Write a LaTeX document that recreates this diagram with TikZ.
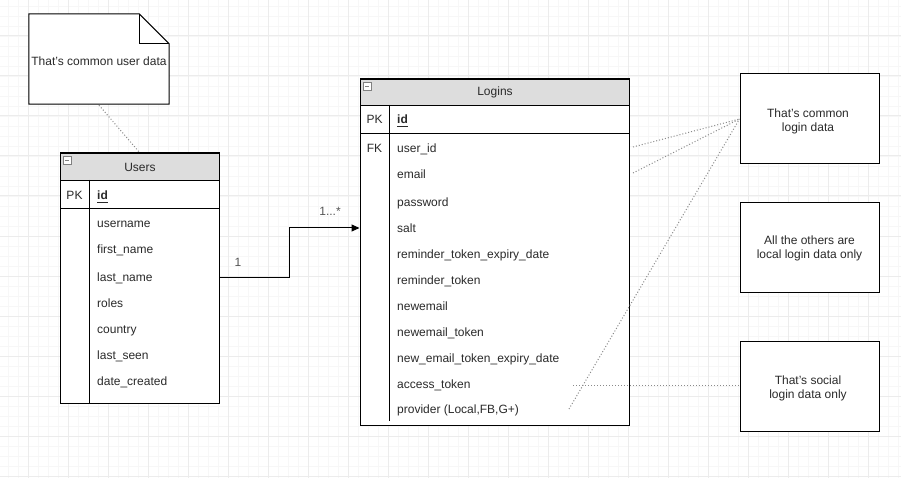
\documentclass[tikz,border=0pt]{standalone}
\usepackage{fontspec}
\setmainfont{Liberation Sans}
\usetikzlibrary{arrows.meta}
\definecolor{hdr}{HTML}{DDDDDD}
\definecolor{txt}{HTML}{2A2A2A}
\definecolor{gridminor}{HTML}{F7F7F7}
\definecolor{gridmajor}{HTML}{ECECEC}
\definecolor{dotc}{HTML}{8A8A8A}
\tikzset{
  box/.style={draw=black, line width=1pt, fill=white, inner sep=0pt},
  hdrbox/.style={draw=black, line width=1pt, fill=hdr, inner sep=0pt, text=txt, font=\fontsize{12}{14}\selectfont},
  rowtext/.style={anchor=base west, inner sep=0pt, text=txt, font=\fontsize{12}{14}\selectfont},
  keytext/.style={anchor=base, inner sep=0pt, text=txt, font=\fontsize{12}{14}\selectfont},
  notetext/.style={align=center, inner sep=0pt, text=txt, font=\fontsize{12}{14}\selectfont},
  sep/.style={draw=black, line width=1pt},
  dotline/.style={draw=dotc, line width=1pt, dash pattern=on 1pt off 2pt},
  conn/.style={draw=black, line width=1pt, -{Triangle[length=8pt,width=7pt]}},
  mult/.style={inner sep=0pt, text=txt!80, font=\fontsize{12}{14}\selectfont},
  minusicon/.style={draw=gray, line width=0.8pt, fill=white}
}
\begin{document}
\begin{tikzpicture}[x=1pt,y=-1pt]
\useasboundingbox (0,0) rectangle (901,478);
\fill[white] (0,0) rectangle (901,478);
% background grid
\foreach \x in {8,18,...,898} \draw[gridminor, line width=0.8pt] (\x,0) -- (\x,478);
\foreach \y in {6,16,...,476} \draw[gridminor, line width=0.8pt] (0,\y) -- (901,\y);
\foreach \x in {28,68,...,868} \draw[gridmajor, line width=1pt] (\x,0) -- (\x,478);
\foreach \y in {36,76,...,476} \draw[gridmajor, line width=1pt] (0,\y) -- (901,\y);

% ---------- note ----------
\node[inner sep=0pt, minimum width=140pt, minimum height=90pt] (note) at (99,59) {};
\draw[line width=1pt, fill=white] (note.north west) -- ([xshift=-30pt]note.north east)
  -- ([yshift=-30pt]note.north east) -- (note.south east) -- (note.south west) -- cycle;
\draw[line width=0.8pt] ([xshift=-30pt]note.north east) -- ([xshift=-30pt,yshift=-30pt]note.north east)
  -- ([yshift=-30pt]note.north east);
\node[notetext] (notetxt) at (99,61) {That's common user data};

% ---------- Users table ----------
\node[box, minimum width=159pt, minimum height=250pt] (users) at (139.5,278) {};
\node[hdrbox, anchor=north west, minimum width=159pt, minimum height=27pt] (usersh) at (60,153) {Users};
\draw[minusicon] (63,156) rectangle (71,164);
\draw[gray, line width=0.8pt] (65,160) -- (69,160);
\draw[sep] (60,209) -- (219,209);
\draw[sep] (89,180) -- (89,403);
\node[keytext] (upk) at (74.5,199.5) {PK};
\node[rowtext] (uid) at (97,199.5) {\textbf{id}};
\draw[txt, line width=0.8pt] (97,202) -- (uid.east |- 0,202);
\node[rowtext] (uusername) at (97,227.5) {username};
\node[rowtext] (ufirst) at (97,253.5) {first\_name};
\node[rowtext] (ulast) at (97,281.5) {last\_name};
\node[rowtext] (uroles) at (97,307.5) {roles};
\node[rowtext] (ucountry) at (97,333.5) {country};
\node[rowtext] (useen) at (97,359.5) {last\_seen};
\node[rowtext] (ucreated) at (97,385.5) {date\_created};

% ---------- Logins table ----------
\node[box, minimum width=269pt, minimum height=346pt] (logins) at (494.5,252) {};
\node[hdrbox, anchor=north west, minimum width=269pt, minimum height=26pt] (loginsh) at (360,79) {Logins};
\draw[minusicon] (363,82) rectangle (371,90);
\draw[gray, line width=0.8pt] (365,86) -- (369,86);
\draw[sep] (360,134) -- (629,134);
\draw[sep] (389,105) -- (389,421);
\node[keytext] (lpk) at (374.5,123.5) {PK};
\node[rowtext] (lid) at (397,123.5) {\textbf{id}};
\draw[txt, line width=0.8pt] (397,126) -- (lid.east |- 0,126);
\node[keytext] (lfk) at (374.5,152.5) {FK};
\node[rowtext] (luid) at (397,152.5) {user\_id};
\node[rowtext] (lemail) at (397,178.5) {email};
\node[rowtext] (lpass) at (397,206.5) {password};
\node[rowtext] (lsalt) at (397,232.5) {salt};
\node[rowtext] (lrted) at (397,258.5) {reminder\_token\_expiry\_date};
\node[rowtext] (lrt) at (397,284.5) {reminder\_token};
\node[rowtext] (lne) at (397,310.5) {newemail};
\node[rowtext] (lnet) at (397,336.5) {newemail\_token};
\node[rowtext] (lneted) at (397,362.5) {new\_email\_token\_expiry\_date};
\node[rowtext] (lat) at (397,388.5) {access\_token};
\node[rowtext] (lprov) at (397,413.5) {provider (Local,FB,G+)};

% ---------- right notes ----------
\node[box, minimum width=139pt, minimum height=90pt] (b1) at (809.5,119) {};
\node[notetext] (b1t) at (808,121) {That's common\\login data};
\node[box, minimum width=139pt, minimum height=89pt] (b2) at (809.5,247.5) {};
\node[notetext] (b2t) at (809.5,248) {All the others are\\local login data only};
\node[box, minimum width=139pt, minimum height=90pt] (b3) at (809.5,386) {};
\node[notetext] (b3t) at (808,388) {That's social\\login data only};

% ---------- connectors ----------
\coordinate (rowl) at (219,277);
\coordinate (rows) at (360,228);
\draw[dotline] ([yshift=-1pt]note.south) -- (users.north);
\draw[conn] (rowl) -- (289,277) |- (logins.west |- rows);
\node[mult] (m1) at (238,262) {1};
\node[mult] (m2) at (330,211) {1...*};

\coordinate (pend) at (569,409);
\coordinate (aend) at (573,385);
\draw[dotline] (633,147) -- (b1.west);
\draw[dotline] (633,173) -- (b1.west);
\draw[dotline] (pend) -- (b1.west);
\draw[dotline] (aend) -- (b3.west |- aend);
\end{tikzpicture}
\end{document}
